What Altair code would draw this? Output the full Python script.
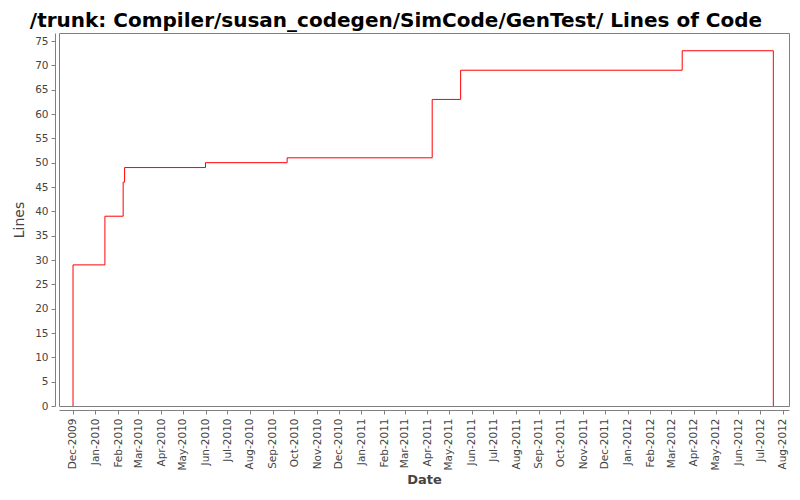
import altair as alt
import pandas as pd

# Data (step chart of lines of code)
dates = ["2009-12-01T00:00", "2009-12-01T06:00", "2010-01-14", "2010-02-08",
         "2010-02-10", "2010-06-01", "2010-09-21", "2011-04-08",
         "2011-05-17", "2012-03-16", "2012-07-19"]
lines = [0, 29, 39, 46, 49, 50, 51, 63, 69, 73, 0]

df = pd.DataFrame({"date": dates, "lines": lines, "idx": list(range(len(dates)))})

y_ticks = list(range(0, 80, 5))

axis_common = dict(
    labelFont="DejaVu Sans", labelFontSize=10.5, labelColor="#444444",
    titleFont="DejaVu Sans", titleColor="#444444",
    domainColor="#808080", tickColor="#808080", tickSize=4,
    grid=False, offset=4,
)

line = alt.Chart(df).mark_line(
    interpolate="step-after", color="#ff0000", strokeWidth=1, clip=True
).encode(
    x=alt.X(
        "date:T",
        title="Date",
        scale=alt.Scale(
            type="utc",
            domain=[alt.DateTime(year=2009, month=11, date=12, utc=True),
                    alt.DateTime(year=2012, month=8, date=9, hours=12, utc=True)],
            nice=False,
        ),
        axis=alt.Axis(
            format="%b-%Y", labelAngle=270, labelAlign="right",
            labelBaseline="middle", labelPadding=4, labelOverlap=False,
            tickCount=alt.TimeIntervalStep(interval="month", step=1),
            titleFontSize=13, titleFontWeight="bold", titlePadding=3,
            **axis_common,
        ),
    ),
    y=alt.Y(
        "lines:Q",
        title="Lines",
        scale=alt.Scale(domain=[0, 76.65], nice=False, zero=True),
        axis=alt.Axis(
            values=y_ticks, labelPadding=3,
            titleFontSize=14, titleFontWeight="normal", titlePadding=8,
            **axis_common,
        ),
    ),
    order="idx:Q",
)

chart = line.properties(
    width=730,
    height=373,
    title=alt.TitleParams(
        "/trunk: Compiler/susan_codegen/SimCode/GenTest/ Lines of Code",
        font="DejaVu Sans", fontSize=20, fontWeight="bold", color="#000000",
        anchor="middle", dx=-28, offset=2,
    ),
    autosize=alt.AutoSizeParams(type="none"),
    padding={"left": 51, "top": 25, "right": 3, "bottom": 86},
    background="white",
).configure_view(
    stroke="#808080", strokeWidth=1
)

chart.save("out.html", embed_options={"renderer": "svg", "actions": False})
